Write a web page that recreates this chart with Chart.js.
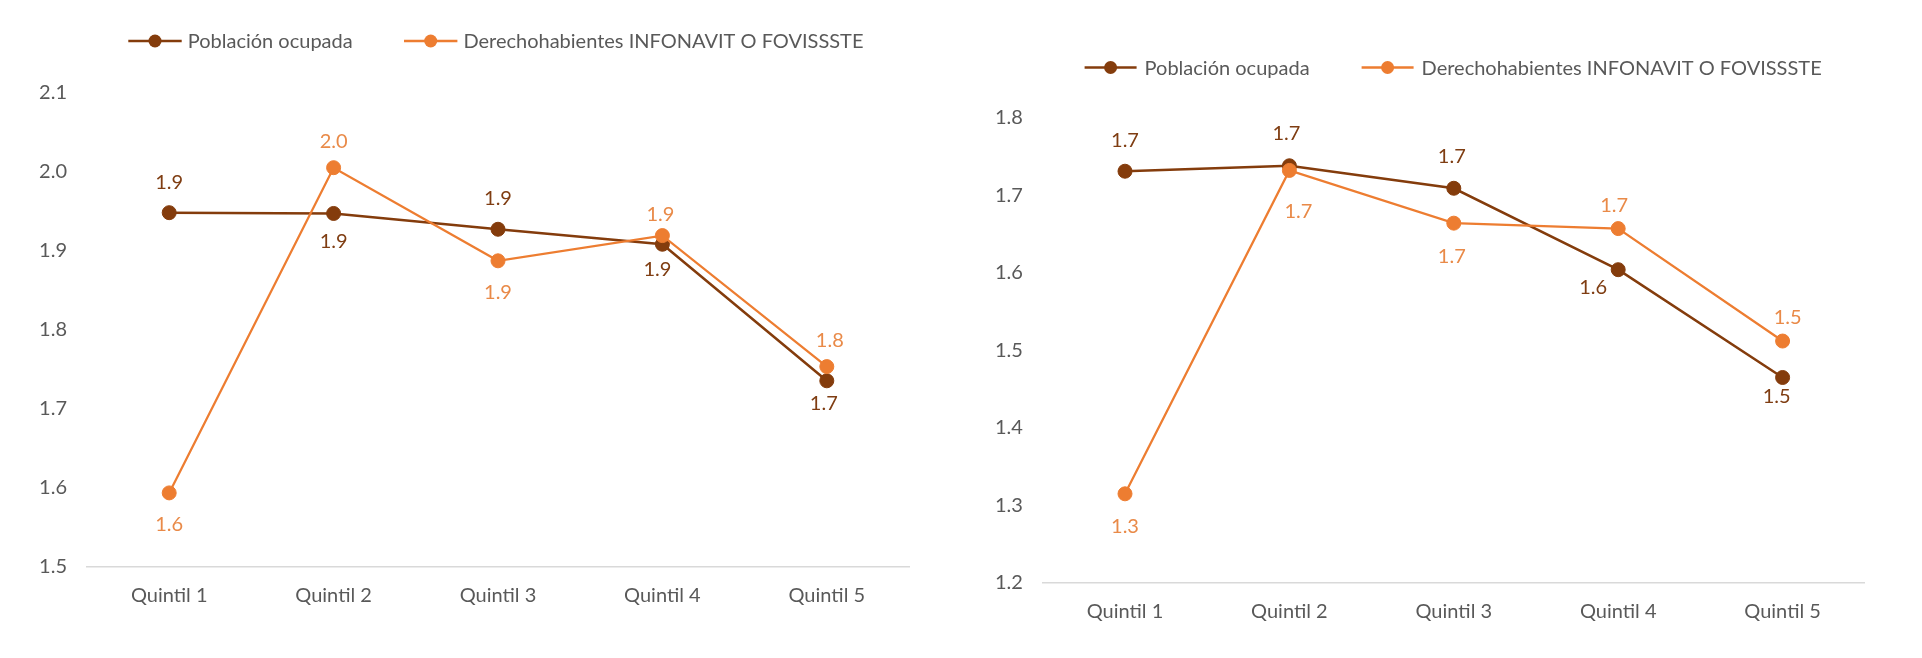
<!DOCTYPE html>
<html>
<head>
<meta charset="utf-8">
<script src="https://cdn.jsdelivr.net/npm/chart.js@4.4.1/dist/chart.umd.min.js"></script>
<style>
  html, body { margin: 0; padding: 0; background: #ffffff; }
  #wrap { position: relative; width: 1922px; height: 658px; overflow: hidden; background: #fff; }
  .box { position: absolute; top: 0; }
</style>
</head>
<body>
<div id="wrap">
  <div class="box" style="left:0px;width:960px;height:658px"><canvas id="c1" width="960" height="658"></canvas></div>
  <div class="box" style="left:960px;width:962px;height:658px"><canvas id="c2" width="962" height="658"></canvas></div>
</div>
<script>
// ---- DATA ----
const categories = ['Quintil 1', 'Quintil 2', 'Quintil 3', 'Quintil 4', 'Quintil 5'];
const seriesNames = ['Población ocupada', 'Derechohabientes INFONAVIT O FOVISSSTE'];

const leftPoblacion = [1.948, 1.947, 1.927, 1.908, 1.735];
const leftDerecho   = [1.593, 2.005, 1.887, 1.919, 1.753];
const leftYTicks    = [1.5, 1.6, 1.7, 1.8, 1.9, 2.0, 2.1];

const rightPoblacion = [1.731, 1.738, 1.709, 1.604, 1.465];
const rightDerecho   = [1.315, 1.732, 1.664, 1.657, 1.512];
const rightYTicks    = [1.2, 1.3, 1.4, 1.5, 1.6, 1.7, 1.8];

// ---- STYLE ----
const FONT = 'Lato, "Open Sans", sans-serif';
const FONT_SIZE = 20;
const TEXT_GRAY = '#595959';
const COL_POB = '#843C0C';
const COL_DER = '#ED7D31';
const COL_POB_LABEL = '#7F3D12';
const COL_DER_LABEL = '#E98A48';

// Data labels drawn at the library's computed point positions
const dataLabelPlugin = {
  id: 'dataLabels',
  afterDatasetsDraw(chart, args, opts) {
    const ctx = chart.ctx;
    ctx.save();
    ctx.font = FONT_SIZE + 'px ' + FONT;
    ctx.textAlign = 'center';
    ctx.textBaseline = 'middle';
    chart.data.datasets.forEach((ds, di) => {
      const meta = chart.getDatasetMeta(di);
      const offs = opts.offsets[di];
      ctx.fillStyle = opts.colors[di];
      meta.data.forEach((pt, i) => {
        const v = ds.data[i];
        const o = offs[i];
        ctx.fillText(v.toFixed(1), pt.x + o[0], pt.y + o[1]);
      });
    });
    ctx.restore();
  }
};

// Legend: line + marker + text, texts taken from dataset labels
const legendPlugin = {
  id: 'lineLegend',
  afterDraw(chart, args, opts) {
    const ctx = chart.ctx;
    ctx.save();
    ctx.font = FONT_SIZE + 'px ' + FONT;
    ctx.textBaseline = 'middle';
    ctx.textAlign = 'left';
    chart.data.datasets.forEach((ds, di) => {
      const x0 = opts.xs[di];
      const y = opts.y;
      ctx.strokeStyle = ds.borderColor;
      ctx.lineWidth = 2.5;
      ctx.beginPath();
      ctx.moveTo(x0, y);
      ctx.lineTo(x0 + opts.lineLen, y);
      ctx.stroke();
      ctx.fillStyle = ds.borderColor;
      ctx.beginPath();
      ctx.arc(x0 + opts.lineLen / 2, y, 6.5, 0, Math.PI * 2);
      ctx.fill();
      ctx.fillStyle = TEXT_GRAY;
      ctx.fillText(ds.label, x0 + opts.lineLen + opts.gap, y + 1);
    });
    ctx.restore();
  }
};

function makeChart(canvasId, pob, der, yTicks, area, legend, labelOffsets) {
  const ctx = document.getElementById(canvasId).getContext('2d');
  const W = ctx.canvas.width, H = ctx.canvas.height;
  return new Chart(ctx, {
    type: 'line',
    data: {
      labels: categories,
      datasets: [
        {
          label: seriesNames[0], data: pob, order: 1,
          borderColor: COL_POB, backgroundColor: COL_POB,
          pointBackgroundColor: COL_POB, pointBorderColor: COL_POB,
          borderWidth: 2.5, pointRadius: 7, pointBorderWidth: 1, tension: 0, fill: false
        },
        {
          label: seriesNames[1], data: der, order: 0,
          borderColor: COL_DER, backgroundColor: COL_DER,
          pointBackgroundColor: COL_DER, pointBorderColor: COL_DER,
          borderWidth: 2.25, pointRadius: 7, pointBorderWidth: 1, tension: 0, fill: false
        }
      ]
    },
    options: {
      responsive: false,
      animation: false,
      devicePixelRatio: 1,
      layout: { padding: { top: area.top, right: W - area.right, bottom: 0, left: 0 } },
      plugins: {
        legend: { display: false },
        tooltip: { enabled: false },
        dataLabels: { offsets: labelOffsets, colors: [COL_POB_LABEL, COL_DER_LABEL] },
        lineLegend: legend
      },
      scales: {
        x: {
          offset: true,
          grid: { display: true, color: 'rgba(0,0,0,0)', drawTicks: false },
          border: { display: true, color: '#D9D9D9', width: 1.5 },
          ticks: { color: TEXT_GRAY, font: { family: FONT, size: FONT_SIZE }, padding: 17, maxRotation: 0 },
          afterFit(scale) { scale.height = H - area.bottom; }
        },
        y: {
          min: yTicks[0], max: yTicks[yTicks.length - 1],
          grid: { display: false, drawTicks: false },
          border: { display: false },
          afterBuildTicks(scale) { scale.ticks = yTicks.map(v => ({ value: v })); },
          ticks: {
            color: TEXT_GRAY, font: { family: FONT, size: FONT_SIZE }, padding: 20,
            callback: (v) => Number(v).toFixed(1)
          },
          afterFit(scale) { scale.width = area.left; }
        }
      }
    },
    plugins: [dataLabelPlugin, legendPlugin]
  });
}

makeChart('c1', leftPoblacion, leftDerecho, leftYTicks,
  { left: 87, right: 909, top: 92.7, bottom: 566.3 },
  { xs: [128.3, 404], y: 41, lineLen: 53.4, gap: 6 },
  [
    [[0, -30.6], [0, 27.6], [0, -30.7], [-5, 25], [-3, 22.6]],
    [[0, 31.4], [0, -26.3], [0, 31.7], [-2, -21.4], [3, -26]]
  ]);

makeChart('c2', rightPoblacion, rightDerecho, rightYTicks,
  { left: 82.8, right: 904.8, top: 117.7, bottom: 583 },
  { xs: [124.6, 401.6], y: 67.5, lineLen: 52, gap: 8 },
  [
    [[0, -31], [-3, -32], [-2, -32], [-25, 18], [-6, 19]],
    [[0, 33], [9, 41], [-2, 33], [-4, -23], [5, -23]]
  ]);
</script>
</body>
</html>
